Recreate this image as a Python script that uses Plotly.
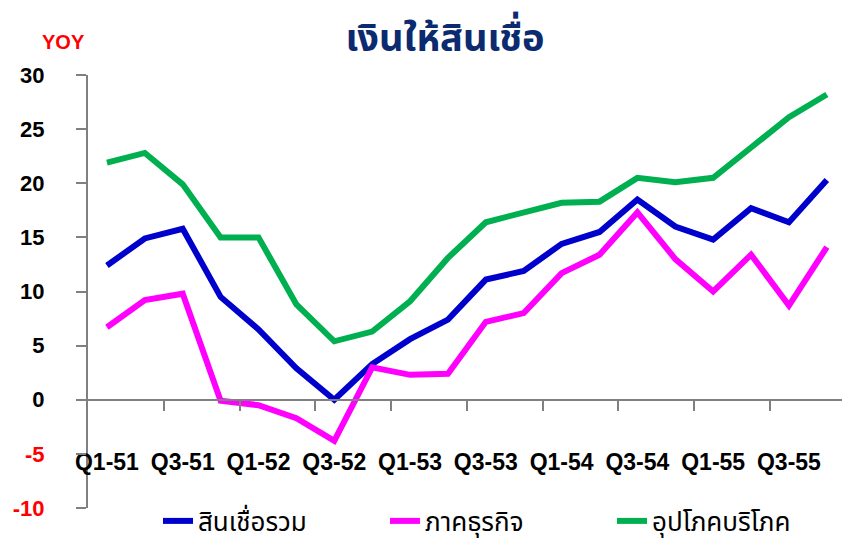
import plotly.graph_objects as go

quarters = ["Q1-51", "Q2-51", "Q3-51", "Q4-51",
            "Q1-52", "Q2-52", "Q3-52", "Q4-52",
            "Q1-53", "Q2-53", "Q3-53", "Q4-53",
            "Q1-54", "Q2-54", "Q3-54", "Q4-54",
            "Q1-55", "Q2-55", "Q3-55", "Q4-55"]

total_credit = [12.4, 14.9, 15.8, 9.5, 6.5, 2.9, 0.0, 3.3, 5.6, 7.4,
                11.1, 11.9, 14.4, 15.5, 18.5, 16.0, 14.8, 17.7, 16.4, 20.3]
business = [6.7, 9.2, 9.8, -0.1, -0.5, -1.7, -3.8, 3.0, 2.3, 2.4,
            7.2, 8.0, 11.7, 13.4, 17.3, 13.0, 10.0, 13.4, 8.7, 14.1]
consumer = [21.9, 22.8, 19.9, 15.0, 15.0, 8.8, 5.4, 6.3, 9.1, 13.1,
            16.4, 17.3, 18.2, 18.3, 20.5, 20.1, 20.5, 23.3, 26.1, 28.2]

series_names = ["สินเชื่อรวม", "ภาคธุรกิจ", "อุปโภคบริโภค"]
series_colors = ["#0000CC", "#FF00FF", "#00B050"]

y_ticks = [30, 25, 20, 15, 10, 5, 0, -5, -10]
label_idx = list(range(0, len(quarters), 2))
boundary_ticks = [i + 1.5 for i in range(0, len(quarters) - 2, 2)]

xs = list(range(len(quarters)))
THAI = "Tahoma, 'Noto Sans Thai', 'Liberation Sans', sans-serif"

W, H = 842, 544
ML, MR, MT, MB = 88, 0, 75, 36
PW, PH = W - ML - MR, H - MT - MB

fig = go.Figure()
for name, vals, col in zip(series_names, [total_credit, business, consumer], series_colors):
    fig.add_trace(go.Scatter(x=xs, y=vals, name=name, mode="lines",
                             line=dict(color=col, width=6),
                             hoverinfo="skip"))

# invisible helper trace on the boundary-tick axis
fig.add_trace(go.Scatter(x=xs, y=total_credit, xaxis="x2", mode="lines",
                         line=dict(width=0), opacity=0, showlegend=False,
                         hoverinfo="skip"))

xr = [-0.5, 19.4]
zero_pos = (0 - (-10)) / (30 - (-10))

y_text = [(f'<span style="color:#FF0000">{v}</span>' if v < 0 else str(v)) for v in y_ticks]

fig.update_layout(
    width=W, height=H,
    margin=dict(l=ML, r=MR, t=MT, b=MB, autoexpand=False),
    paper_bgcolor="white", plot_bgcolor="white",
    showlegend=True,
    title=dict(text="<b>เงินให้สินเชื่อ</b>", x=445/W, xanchor="center",
               y=1 - 38/H, yanchor="middle", yref="container",
               font=dict(size=38, color="#0B2A6F", family=THAI)),
    xaxis=dict(range=xr, tickvals=[xs[i] for i in label_idx],
               ticktext=[quarters[i] for i in label_idx],
               anchor="free", position=zero_pos,
               showline=False, ticks="", showgrid=False, zeroline=False,
               ticklabelstandoff=46,
               tickfont=dict(size=23, color="black", family="Liberation Sans", weight="bold")),
    xaxis2=dict(range=xr, overlaying="x", anchor="free", position=zero_pos,
                tickvals=boundary_ticks, ticks="outside", ticklen=10, tickwidth=2,
                tickcolor="#808080", showline=True, linecolor="#808080", linewidth=2,
                showticklabels=False, showgrid=False, zeroline=False),
    yaxis=dict(range=[-10, 30], tickvals=y_ticks, ticktext=y_text,
               showline=True, linecolor="#808080", linewidth=2,
               ticks="outside", ticklen=10, tickwidth=2, tickcolor="#808080",
               showgrid=False, zeroline=False, ticklabelstandoff=27,
               tickfont=dict(size=22, color="black", family="Liberation Sans", weight="bold")),
    legend=dict(orientation="h", x=(158 - ML) / PW, xanchor="left",
                y=(0 - (521 - (H - MB))) / PH, yanchor="middle",
                xref="paper", yref="paper", entrywidth=182, entrywidthmode="pixels",
                font=dict(size=26, color="black", family=THAI),
                bgcolor="rgba(0,0,0,0)"),
    annotations=[dict(text="<b>YOY</b>", x=(63 - ML) / PW, y=1 + (MT - 42) / PH,
                      xref="paper", yref="paper", xanchor="center", yanchor="middle",
                      showarrow=False,
                      font=dict(size=20, color="#FF0000", family="Liberation Sans"))],
)

fig.write_html("out.html", config={"displayModeBar": False},
               post_script="document.body.style.margin='0';document.body.style.overflow='hidden';")
